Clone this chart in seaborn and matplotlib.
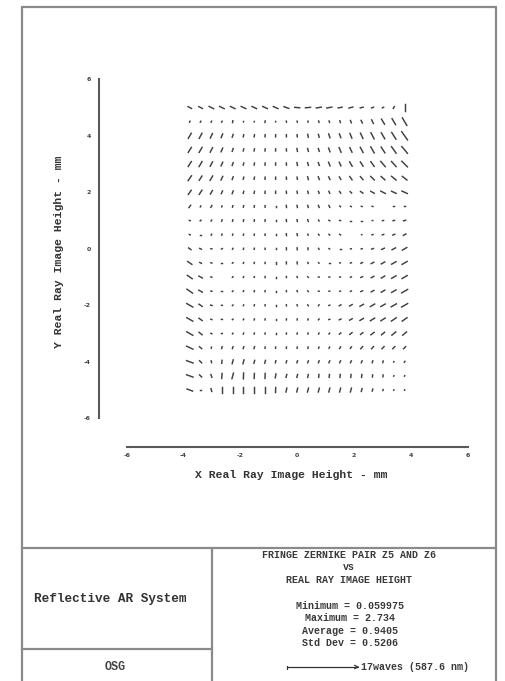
import numpy as np
import pandas as pd
import matplotlib
matplotlib.use("Agg")
import matplotlib.pyplot as plt
import seaborn as sns
from matplotlib.lines import Line2D

# ---------------- data ----------------
x_field = [-3.78, -3.40, -3.02, -2.65, -2.27, -1.89, -1.51, -1.13, -0.76, -0.38, 0.0,
           0.38, 0.76, 1.13, 1.51, 1.89, 2.27, 2.65, 3.02, 3.40, 3.78]
y_field = [5.0, 4.5, 4.0, 3.5, 3.0, 2.5, 2.0, 1.5, 1.0, 0.5, 0.0,
           -0.5, -1.0, -1.5, -2.0, -2.5, -3.0, -3.5, -4.0, -4.5, -5.0]

# astigmatism magnitude (waves), one row per y_field, one column per x_field
magnitude_waves = [
    [0.95, 0.95, 1.2, 1.2, 1.2, 1.2, 1.2, 1.2, 1.2, 1.2, 1.2, 1.2, 1.2, 1.2, 0.95, 0.95, 0.7, 0.5, 0.35, 0.5, 1.65],
    [0.25, 0.25, 0.25, 0.25, 0.45, 0.1, 0.1, 0.35, 0.1, 0.25, 0.25, 0.25, 0.35, 0.35, 0.45, 0.6, 0.7, 0.95, 1.4, 1.65, 2.1],
    [1.4, 1.4, 1.2, 0.95, 0.7, 0.5, 0.5, 0.5, 0.5, 0.5, 0.5, 0.7, 0.7, 0.95, 0.95, 1.2, 1.4, 1.65, 1.65, 1.9, 2.4],
    [1.4, 1.4, 1.2, 0.95, 0.7, 0.5, 0.5, 0.5, 0.5, 0.5, 0.7, 0.7, 0.7, 0.95, 1.2, 1.2, 1.4, 1.65, 1.65, 1.9, 2.1],
    [1.4, 1.4, 1.2, 0.95, 0.7, 0.5, 0.5, 0.5, 0.5, 0.5, 0.7, 0.7, 0.7, 0.95, 0.95, 1.2, 1.2, 1.4, 1.65, 1.65, 1.9],
    [1.4, 1.2, 1.2, 0.95, 0.7, 0.5, 0.5, 0.5, 0.5, 0.5, 0.5, 0.7, 0.7, 0.7, 0.7, 0.95, 0.95, 1.2, 1.2, 1.4, 1.4],
    [1.2, 1.2, 0.95, 0.7, 0.7, 0.5, 0.5, 0.5, 0.5, 0.5, 0.5, 0.5, 0.5, 0.5, 0.5, 0.5, 0.7, 0.95, 1.2, 1.2, 1.4],
    [0.7, 0.25, 0.5, 0.25, 0.35, 0.35, 0.35, 0.35, 0.35, 0.5, 0.5, 0.5, 0.5, 0.5, 0.25, 0.2, 0.2, 0.2, 0.2, 0.25, 0.25],
    [0.25, 0.25, 0.25, 0.35, 0.35, 0.35, 0.35, 0.35, 0.35, 0.45, 0.45, 0.45, 0.25, 0.25, 0.25, 0.25, 0.25, 0.12, 0.25, 0.35, 0.5],
    [0.25, 0.1, 0.25, 0.25, 0.25, 0.25, 0.25, 0.3, 0.3, 0.45, 0.45, 0.25, 0.25, 0.25, 0.25, 0.06, 0.06, 0.25, 0.35, 0.5, 0.7],
    [0.7, 0.45, 0.25, 0.25, 0.25, 0.25, 0.25, 0.25, 0.3, 0.45, 0.45, 0.4, 0.25, 0.2, 0.2, 0.2, 0.25, 0.45, 0.7, 0.95, 1.2],
    [1.2, 0.45, 0.25, 0.2, 0.2, 0.2, 0.25, 0.25, 0.3, 0.45, 0.45, 0.25, 0.15, 0.15, 0.15, 0.25, 0.45, 0.7, 0.95, 1.2, 1.4],
    [1.4, 0.95, 0.25, 0.06, 0.2, 0.2, 0.2, 0.25, 0.25, 0.25, 0.25, 0.2, 0.2, 0.2, 0.2, 0.25, 0.45, 0.7, 0.95, 1.2, 1.4],
    [1.65, 0.95, 0.25, 0.2, 0.2, 0.2, 0.25, 0.25, 0.25, 0.25, 0.25, 0.2, 0.2, 0.2, 0.2, 0.25, 0.45, 0.7, 0.95, 1.2, 1.65],
    [1.65, 0.95, 0.35, 0.2, 0.2, 0.2, 0.25, 0.25, 0.25, 0.25, 0.25, 0.25, 0.25, 0.25, 0.45, 0.7, 0.95, 1.2, 1.2, 1.4, 1.65],
    [1.65, 0.95, 0.25, 0.25, 0.2, 0.2, 0.25, 0.25, 0.25, 0.25, 0.25, 0.25, 0.25, 0.25, 0.45, 0.7, 0.95, 1.2, 1.2, 1.4, 1.4],
    [1.65, 0.95, 0.25, 0.2, 0.2, 0.25, 0.25, 0.25, 0.25, 0.25, 0.25, 0.25, 0.25, 0.25, 0.45, 0.7, 0.7, 0.95, 0.95, 1.2, 1.2],
    [1.65, 0.7, 0.25, 0.45, 0.45, 0.45, 0.45, 0.3, 0.3, 0.3, 0.3, 0.3, 0.3, 0.3, 0.45, 0.45, 0.7, 0.7, 0.7, 0.7, 0.7],
    [1.65, 0.7, 0.45, 0.7, 0.95, 0.95, 0.7, 0.7, 0.5, 0.5, 0.5, 0.5, 0.5, 0.5, 0.5, 0.5, 0.5, 0.45, 0.4, 0.12, 0.25],
    [1.65, 0.7, 0.7, 1.2, 1.4, 1.4, 1.2, 1.2, 0.95, 0.7, 0.7, 0.7, 0.7, 0.7, 0.7, 0.7, 0.7, 0.5, 0.45, 0.12, 0.12],
    [1.4, 0.25, 0.7, 1.4, 1.65, 1.65, 1.65, 1.4, 1.2, 0.95, 0.95, 0.95, 0.95, 0.95, 0.95, 0.95, 0.7, 0.5, 0.25, 0.12, 0.12],
]

# astigmatism orientation (degrees from +x)
angle_deg = [
    [-28, -28, -27, -26, -26, -25, -25, -25, -24, -20, -5, 5, 10, 10, 10, 15, 15, 20, 30, 60, 90],
    [60, 60, 60, 60, 80, 80, 80, 80, 80, -80, -80, -80, -75, -75, -75, -70, -65, -65, -60, -60, -60],
    [60, 62, 65, 68, 72, 78, 80, 85, 88, -88, -85, -78, -75, -72, -70, -68, -65, -63, -60, -58, -55],
    [58, 60, 63, 67, 71, 76, 80, 85, 88, -85, -80, -75, -72, -70, -68, -65, -62, -60, -57, -55, -50],
    [58, 60, 62, 66, 70, 75, 80, 85, 88, -85, -80, -75, -70, -68, -65, -60, -57, -55, -50, -48, -45],
    [55, 58, 60, 65, 70, 75, 80, 85, 88, -85, -80, -75, -70, -65, -60, -55, -50, -45, -42, -40, -38],
    [55, 58, 60, 65, 70, 75, 80, 85, 88, -85, -80, -75, -70, -65, -55, -45, -35, -30, -28, -25, -25],
    [55, 60, 60, 70, 75, 80, 85, 88, 90, -85, -80, -75, -70, -65, -50, -30, -20, -10, 0, 0, 0],
    [-10, 40, 60, 70, 75, 80, 85, 88, 90, -85, -80, -75, -60, -30, -10, 0, 0, 5, 10, 15, 15],
    [-20, 0, 60, 70, 75, 80, 85, 88, 90, -85, -80, -70, -60, -45, -30, 0, 10, 15, 20, 25, 30],
    [-35, -25, -10, 30, 60, 75, 80, 85, 90, -88, -85, -80, -60, -30, 0, 10, 15, 20, 25, 28, 30],
    [-35, -30, -20, 0, 45, 70, 80, 85, 90, -88, -85, -75, -45, 0, 15, 20, 25, 28, 30, 30, 30],
    [-35, -30, -20, 0, 45, 65, 75, 85, 90, -85, -70, -45, -10, 10, 15, 20, 25, 28, 30, 30, 30],
    [-35, -30, -20, 0, 45, 65, 75, 85, 90, -85, -70, -45, -10, 10, 15, 20, 25, 28, 30, 30, 30],
    [-30, -35, -15, 10, 45, 65, 75, 85, 90, -85, -75, -60, 60, 20, 30, 30, 30, 30, 30, 30, 30],
    [-30, -35, -20, -5, 40, 60, 75, 85, 90, 85, 80, 70, 50, 20, 25, 30, 30, 32, 33, 35, 35],
    [-30, -40, -30, 20, 60, 70, 80, 85, 90, 85, 80, 75, 65, 50, 40, 38, 38, 38, 40, 40, 40],
    [-25, -40, 80, 75, 72, 72, 75, 80, 85, 85, 80, 75, 70, 65, 60, 55, 50, 48, 45, 45, 45],
    [-20, -45, -80, 85, 75, 75, 75, 75, 78, 75, 72, 70, 68, 65, 65, 65, 65, 70, 75, 60, 60],
    [-20, -45, -70, 85, 75, 88, 88, 88, 80, 75, 75, 78, 85, 85, 85, 85, 85, 85, 85, 70, 60],
    [-20, 0, -75, 90, 90, 90, 90, 90, 88, 78, 76, 75, 75, 75, 75, 75, 75, 75, 70, 60, 60],
]

axis_ticks = [-6, -4, -2, 0, 2, 4, 6]
scale_waves = 17
title_lines = ["FRINGE ZERNIKE PAIR Z5 AND Z6", "vs", "REAL RAY IMAGE HEIGHT"]
stat_lines = ["Minimum = 0.059975", "Maximum = 2.734", "Average = 0.9405", "Std Dev = 0.5206"]
scale_label = "17waves (587.6 nm)"
system_name = "Reflective AR System"
company = "OSG"
x_label = "X Real Ray Image Height - mm"
y_label = "Y Real Ray Image Height - mm"

# ---------------- build segments ----------------
mm_per_wave = 2.5 / scale_waves
rows = []
seg = 0
for r, yv in enumerate(y_field):
    for c, xv in enumerate(x_field):
        L = magnitude_waves[r][c] * mm_per_wave / 2.0
        a = np.deg2rad(angle_deg[r][c])
        dx, dy = L * np.cos(a), L * np.sin(a)
        rows.append((seg, xv - dx, yv - dy))
        rows.append((seg, xv + dx, yv + dy))
        seg += 1
df = pd.DataFrame(rows, columns=["seg", "x", "y"])

# ---------------- figure ----------------
sns.set_style("white")
plt.rcParams["font.family"] = ["Liberation Mono", "DejaVu Sans"]

W, H = 505, 681
fig = plt.figure(figsize=(W / 100, H / 100), dpi=100)

def fx(px):
    return px / W

def fy(py):
    return 1 - py / H

ax = fig.add_axes([fx(126.7), fy(418.3), (467.7 - 126.7) / W, (418.3 - 79.3) / H])
sns.lineplot(data=df, x="x", y="y", units="seg", estimator=None, sort=False,
             color="#404040", linewidth=1.05, ax=ax, legend=False)
for ln in ax.lines:
    ln.set_solid_capstyle("projecting")

ax.set_xlim(-6, 6)
ax.set_ylim(-6, 6)
ax.set_xticks(axis_ticks)
ax.set_yticks(axis_ticks)
ax.set_xticklabels([str(t) for t in axis_ticks])
ax.set_yticklabels([str(t) for t in axis_ticks])
ax.set_xlabel("")
ax.set_ylabel("")
sns.despine(ax=ax, offset={"left": 19.7, "bottom": 20.4})
for side in ("left", "bottom"):
    ax.spines[side].set_color("#5a5a5a")
    ax.spines[side].set_linewidth(1.5)
ax.tick_params(axis="both", direction="inout", length=4, width=1.0, color="#555555",
               labelsize=4.5, labelcolor="#444444", pad=2.5)
ax.tick_params(axis="y", pad=4)
for lab in ax.get_xticklabels() + ax.get_yticklabels():
    lab.set_fontweight("bold")
    lab.set_family(["DejaVu Sans"])

fig.text(fx(291), fy(475), x_label, ha="center", va="center", fontsize=8.2,
         fontweight="bold", color="#333333")
fig.text(fx(59), fy(252), y_label, ha="center", va="center", fontsize=8.2,
         fontweight="bold", color="#333333", rotation=90)

# ---------------- frame / footer ----------------
fc = "#8a8a8a"
def hline(x0, x1, y):
    fig.add_artist(Line2D([fx(x0), fx(x1)], [fy(y), fy(y)], color=fc, lw=1.6))
def vline(x, y0, y1):
    fig.add_artist(Line2D([fx(x), fx(x)], [fy(y0), fy(y1)], color=fc, lw=1.6))

hline(22, 496, 7)
vline(22, 7, 682)
vline(496, 7, 682)
hline(22, 496, 548)
vline(212, 548, 682)
hline(22, 212, 649)

fig.text(fx(110), fy(599), system_name, ha="center", va="center", fontsize=9.2,
         fontweight="bold", color="#333333")
fig.text(fx(115), fy(667), company, ha="center", va="center", fontsize=8.5,
         fontweight="bold", color="#444444")

for i, t in enumerate(title_lines):
    fig.text(fx(349), fy([554.5, 567.5, 579.7][i]), t, ha="center", va="center",
             fontsize=7.2, fontweight="bold", color="#3a3a3a")
for i, t in enumerate(stat_lines):
    fig.text(fx(350), fy(605.7 + 12.4 * i), t, ha="center", va="center",
             fontsize=7.2, fontweight="bold", color="#3a3a3a")

# scale bar: 17 waves in data units -> pixels
p0 = ax.transData.transform((0, 0))
p1 = ax.transData.transform((scale_waves * mm_per_wave, 0))
bar_px = p1[0] - p0[0]
x0 = 287
fig.add_artist(Line2D([fx(x0), fx(x0 + bar_px)], [fy(667), fy(667)], color="#333333", lw=0.9))
fig.add_artist(Line2D([fx(x0), fx(x0)], [fy(665.5), fy(668.5)], color="#333333", lw=0.9))
fig.add_artist(Line2D([fx(x0 + bar_px - 3.5), fx(x0 + bar_px)], [fy(665.3), fy(667)], color="#333333", lw=0.9))
fig.add_artist(Line2D([fx(x0 + bar_px - 3.5), fx(x0 + bar_px)], [fy(668.7), fy(667)], color="#333333", lw=0.9))
fig.text(fx(x0 + bar_px + 3), fy(667), scale_label, ha="left", va="center",
         fontsize=7.2, fontweight="bold", color="#3a3a3a")

fig.savefig("out.png", dpi=100)
